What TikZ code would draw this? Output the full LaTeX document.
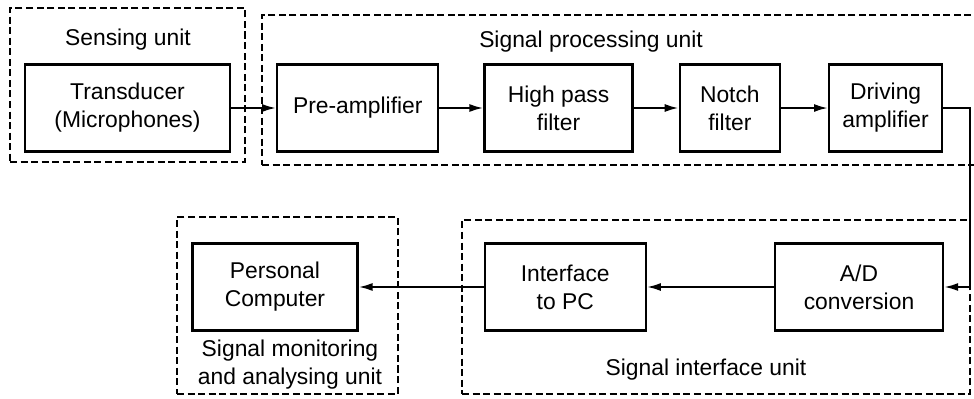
\documentclass[tikz,border=0pt]{standalone}
\usepackage{fontspec}
\setmainfont{Liberation Sans}
\usepackage{tikz}
\usetikzlibrary{arrows.meta,positioning,fit}

\begin{document}
\begin{tikzpicture}[
    node distance=0.9cm,
    every node/.style={font=\fontsize{13}{16}\selectfont},
    block/.style={rectangle, draw, line width=1.3pt, minimum height=1.74cm, align=center, inner sep=2pt},
    unit/.style={rectangle, draw, line width=1.4pt, dash pattern=on 4pt off 2pt, inner sep=0pt},
    unitlbl/.style={inner sep=0pt, align=center},
    arrow/.style={-{Latex[length=2.8mm,width=1.6mm]}, line width=1.2pt}
]
\useasboundingbox (0,0) rectangle (19.48,-7.96);

% Upper row: sensing and processing
\node[block, minimum width=4.1cm] (trans) at (2.55,-2.16) {Transducer\\(Microphones)};
\node[block, minimum width=3.22cm, right=0.9cm of trans] (preamp) {Pre-amplifier};
\node[block, minimum width=2.96cm, right=0.88cm of preamp] (hpf) {High pass\\filter};
\node[block, minimum width=2.0cm, right=0.9cm of hpf] (notch) {Notch\\filter};
\node[block, minimum width=2.26cm, right=0.94cm of notch] (drive) {Driving\\amplifier};

% Lower row: interface and monitoring
\node[block, minimum width=3.36cm] (adc) at (17.18,-5.74) {A/D\\conversion};
\node[block, minimum width=3.22cm, left=2.54cm of adc] (iface) {Interface\\to PC};
\node[block, minimum width=3.3cm, left=2.5cm of iface] (pc) {Personal\\Computer};

% Unit frames and their names
\node[unit, fit={(0.2,-0.16) (4.9,-3.24)}] (sense) {};
\node[unit, fit={(5.24,-0.3) (19.9,-3.3)}] (proc) {};
\node[unit, fit={(3.54,-4.34) (7.96,-7.88)}] (mon) {};
\node[unit, fit={(9.24,-4.4) (19.4,-7.88)}] (sigif) {};
\node[unitlbl, anchor=base] (sense_lbl) at (2.56,-0.9) {Sensing unit};
\node[unitlbl, anchor=base] (proc_lbl) at (11.82,-0.94) {Signal processing unit};
\node[unitlbl] (mon_lbl) at (5.8,-7.3) {Signal monitoring\\and analysing unit};
\node[unitlbl, anchor=base] (sigif_lbl) at (14.12,-7.5) {Signal interface unit};

\coordinate (bend) at (19.4,-5.74);

% Arrows
\draw[arrow] (trans) -- (preamp);
\draw[arrow] (preamp) -- (hpf);
\draw[arrow] (hpf) -- (notch);
\draw[arrow] (notch) -- (drive);
\draw[arrow] (drive.east) -| (bend) -- (adc.east);
\draw[arrow] (adc) -- (iface);
\draw[arrow] (iface) -- (pc);

\end{tikzpicture}
\end{document}
